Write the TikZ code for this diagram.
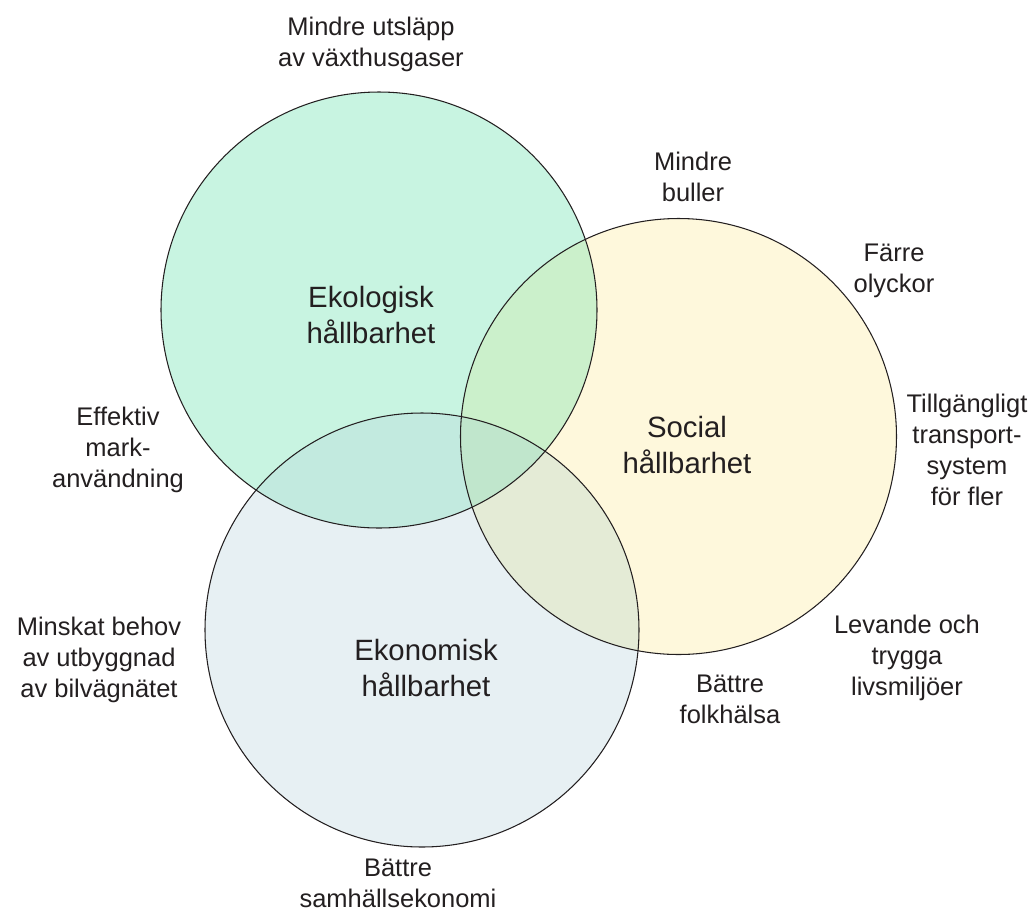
\documentclass[tikz,border=0pt]{standalone}
\usepackage{fontspec}
\setmainfont{Liberation Sans}
\definecolor{ekofill}{HTML}{C8F4E1}
\definecolor{socfill}{HTML}{FEF8DC}
\definecolor{konfill}{HTML}{E7F0F3}
\definecolor{ekosocfill}{HTML}{CBF0CB}
\definecolor{ekokonfill}{HTML}{C2EADF}
\definecolor{sockonfill}{HTML}{E4EBD6}
\definecolor{allfill}{HTML}{C0E6CC}
\definecolor{inkgray}{HTML}{231F20}
\begin{document}
\begin{tikzpicture}[x=0.02cm,y=-0.02cm,
        lbl/.style={align=center,text=inkgray,font=\fontsize{14.5}{17.6}\selectfont},
        mainlbl/.style={align=center,text=inkgray,font=\fontsize{16.7}{21}\selectfont},
        ring/.style={draw=inkgray,line width=0.6pt}]
        \useasboundingbox (0,0) rectangle (1036,914);
        \coordinate (eko) at (379,310);
        \coordinate (soc) at (678.5,436.5);
        \coordinate (kon) at (422,630);
        \fill[ekofill] (eko) circle (218);
        \fill[socfill] (soc) circle (218);
        \fill[konfill] (kon) circle (217);
        \begin{scope}
            \clip (eko) circle (218);
            \fill[ekosocfill] (soc) circle (218);
            \fill[ekokonfill] (kon) circle (217);
        \end{scope}
        \begin{scope}
            \clip (soc) circle (218);
            \fill[sockonfill] (kon) circle (217);
            \clip (eko) circle (218);
            \fill[allfill] (kon) circle (217);
        \end{scope}
        \draw[ring] (eko) circle (218);
        \draw[ring] (soc) circle (218);
        \draw[ring] (kon) circle (217);
        \node[mainlbl] (ekolbl) at (371,315) {Ekologisk\\hållbarhet};
        \node[mainlbl] (soclbl) at (687,445) {Social\\hållbarhet};
        \node[mainlbl] (konlbl) at (426,668) {Ekonomisk\\hållbarhet};
        \node[lbl] (utslapp) at (371,44) {Mindre utsläpp\\av växthusgaser};
        \node[lbl] (buller) at (693,177) {Mindre\\buller};
        \node[lbl] (olyckor) at (894,271) {Färre\\olyckor};
        \node[lbl] (tillg) at (967,450) {Tillgängligt\\transport-\\system\\för fler};
        \node[lbl] (livsmiljo) at (907,658) {Levande och\\trygga\\livsmiljöer};
        \node[lbl] (folkhalsa) at (730,699) {Bättre\\folkhälsa};
        \node[lbl] (samhall) at (398,883) {Bättre\\samhällsekonomi};
        \node[lbl] (markanv) at (118,450) {Effektiv\\mark-\\användning};
        \node[lbl] (bilvag) at (99,660) {Minskat behov\\av utbyggnad\\av bilvägnätet};
\end{tikzpicture}
\end{document}
